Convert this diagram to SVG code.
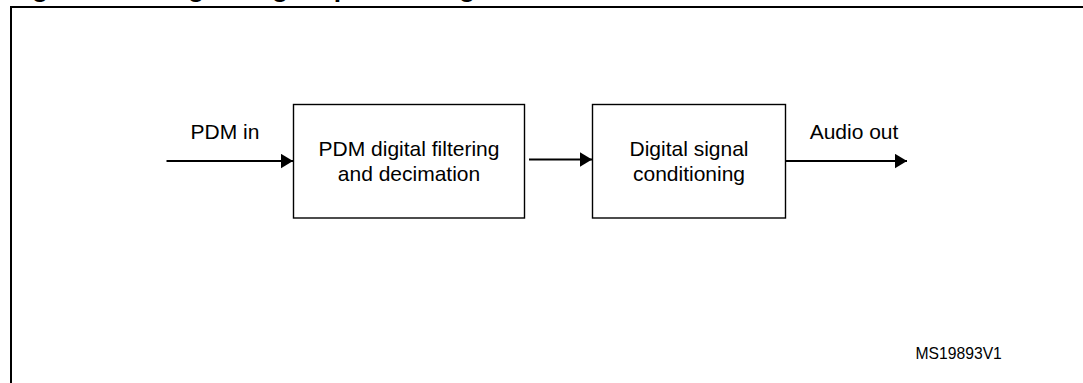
<svg xmlns="http://www.w3.org/2000/svg" width="1083" height="383" viewBox="0 0 1083 383">
  <style>
    .lbl { font-family: "Liberation Sans", Arial, sans-serif; font-size: 21px; fill: #000; }
    .title { font-family: "Liberation Sans", Arial, sans-serif; font-size: 26.5px; font-weight: bold; fill: #000; }
    .ref { font-family: "Liberation Sans", Arial, sans-serif; font-size: 15.7px; fill: #000; }
    .box { fill: #fff; stroke: #000; stroke-width: 1.4; }
    .wire { fill: none; stroke: #000; stroke-width: 2.2; marker-end: url(#arrow); }
  </style>
  <defs>
    <marker id="arrow" markerUnits="userSpaceOnUse" markerWidth="14" markerHeight="16" refX="12.5" refY="7.5" orient="auto">
      <polygon points="0,0 12.5,7.5 0,15" fill="#000"/>
    </marker>
  </defs>
  <rect width="1083" height="383" fill="#fff"/>
  <text class="title" y="-3"><tspan x="8.5">Figure</tspan><tspan x="161.5">Digital signal processing</tspan></text>
  <path d="M11,390 V7 H1090" fill="none" stroke="#000" stroke-width="2"/>
  <g id="connectors">
    <line class="wire" x1="166.5" y1="161" x2="293" y2="161"/>
    <line class="wire" x1="529" y1="159.5" x2="592" y2="159.5"/>
    <line class="wire" x1="786" y1="161" x2="907" y2="161"/>
  </g>
  <g id="pdm-in">
    <text class="lbl" x="225" y="138.5" text-anchor="middle">PDM in</text>
  </g>
  <g id="filter">
    <rect class="box" x="293.5" y="104.5" width="231" height="113.5"/>
    <text class="lbl" x="409" y="155.5" text-anchor="middle">PDM digital filtering</text>
    <text class="lbl" x="409" y="181" text-anchor="middle">and decimation</text>
  </g>
  <g id="conditioning">
    <rect class="box" x="592.5" y="104.5" width="193" height="113.5"/>
    <text class="lbl" x="689" y="155.5" text-anchor="middle">Digital signal</text>
    <text class="lbl" x="689" y="181" text-anchor="middle">conditioning</text>
  </g>
  <g id="audio-out">
    <text class="lbl" x="854" y="138.5" text-anchor="middle">Audio out</text>
  </g>
  <text class="ref" x="915.5" y="359">MS19893V1</text>
</svg>
